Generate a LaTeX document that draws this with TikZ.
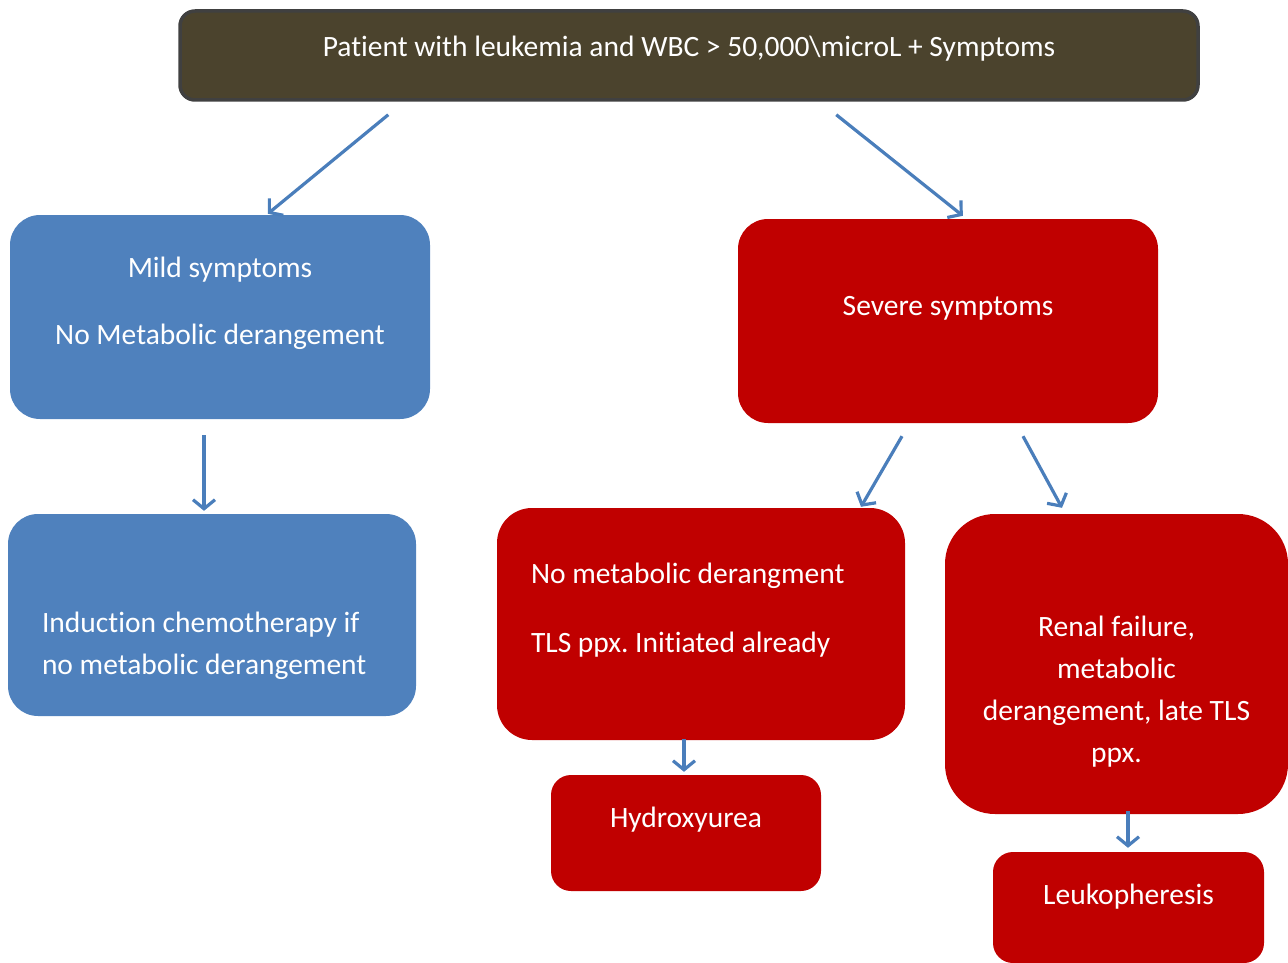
\documentclass[tikz,border=0pt]{standalone}
\usepackage{fontspec}
\setmainfont{Carlito}[Ligatures=NoCommon]
\frenchspacing
\usepackage{xcolor}
\definecolor{boxblue}{HTML}{4F81BD}
\definecolor{boxred}{HTML}{C00000}
\definecolor{topolive}{HTML}{4B432D}
\definecolor{topedge}{HTML}{404040}
\definecolor{arrblue}{HTML}{4A7EBB}
\usepackage{tikz}
\usetikzlibrary{arrows.meta, positioning, calc}

\begin{document}
\begin{tikzpicture}[x=1pt, y=-1pt,
  box/.style={rectangle, inner sep=0pt, text=white, align=center,
              font=\fontsize{29.5}{42}\selectfont},
  bluebox/.style={box, fill=boxblue},
  redbox/.style={box, fill=boxred},
  topbox/.style={box, fill=topolive, draw=topedge, line width=3.5pt, rounded corners=15pt},
  arr/.style={-{Straight Barb[length=9pt, width=22pt]}, line width=3.2pt, arrblue}
]
\useasboundingbox (0,0) rectangle (1288,963);
% boxes
\node[topbox, minimum width=1018pt, minimum height=89pt] (top) at (689,55.5)
  {\strut Patient with leukemia and WBC > 50,000\textbackslash microL + Symptoms\\[-27pt]\strut};
\node[bluebox, rounded corners=30pt, minimum width=420pt, minimum height=204pt] (mild) at (220,317)
  {\strut Mild symptoms\\[25pt]\strut No Metabolic derangement\\[-13pt]\strut};
\node[redbox, rounded corners=30pt, minimum width=420pt, minimum height=204pt] (severe) at (948,321)
  {\strut Severe symptoms\\[-14pt]\strut};
\node[bluebox, rounded corners=30pt, minimum width=408pt, minimum height=202pt, align=left] (induction) at (212,615)
  {\parbox{340pt}{\raggedright\strut\\[19pt]\strut Induction chemotherapy if\\\strut no metabolic derangement}};
\node[redbox, rounded corners=35pt, minimum width=408pt, minimum height=232pt] (nometab) at (701,624)
  {\parbox{340pt}{\raggedright\strut No metabolic derangment\\[27pt]\strut TLS ppx. Initiated already\\[-13pt]\strut}};
\node[redbox, rounded corners=50pt, minimum width=343pt, minimum height=300pt] (renal) at (1116.5,664)
  {\strut\\[13pt]\strut Renal failure,\\\strut metabolic\\\strut derangement, late TLS\\\strut ppx.};
\node[redbox, rounded corners=20pt, minimum width=270pt, minimum height=116pt] (hydroxy) at (686,833)
  {\strut Hydroxyurea\\[-14pt]\strut};
\node[redbox, rounded corners=20pt, minimum width=271pt, minimum height=111pt] (leuko) at (1128.5,907.5)
  {\strut Leukopheresis\\[-19pt]\strut};
% arrows
\draw[arr] ($(top.south west)+(210,13)$) -- ($(mild.north west)+(258,-1)$);
\draw[arr] ($(top.south west)+(658,13)$) -- ($(severe.north west)+(225,-3)$);
\draw[arr] ($(mild.south)+(-16,16)$) -- ($(induction.north)+(-8,-3)$);
\draw[arr] ($(severe.south)+(-46,13)$) -- ($(nometab.north)+(160,-1)$);
\draw[arr] ($(severe.south)+(75,13)$) -- ($(renal.north)+(-54.5,-6)$);
\draw[arr] ($(nometab.south)+(-17,-1)$) -- ($(hydroxy.north)+(-2,-3)$);
\draw[arr] ($(renal.south)+(11.5,-3)$) -- ($(leuko.north)+(-0.5,-4)$);
\end{tikzpicture}
\end{document}
